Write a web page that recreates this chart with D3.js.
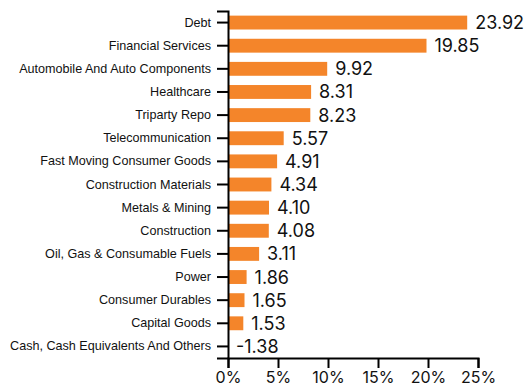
<!DOCTYPE html>
<html>
<head>
<meta charset="utf-8">
<script src="https://cdn.jsdelivr.net/npm/d3@7"></script>
<style>
  html, body { margin: 0; padding: 0; background: #fff; }
  svg { display: block; }
</style>
</head>
<body>
<div id="chart"></div>
<script>
// Sector allocation (% of net assets)
const sectors = [
  "Debt",
  "Financial Services",
  "Automobile And Auto Components",
  "Healthcare",
  "Triparty Repo",
  "Telecommunication",
  "Fast Moving Consumer Goods",
  "Construction Materials",
  "Metals & Mining",
  "Construction",
  "Oil, Gas & Consumable Fuels",
  "Power",
  "Consumer Durables",
  "Capital Goods",
  "Cash, Cash Equivalents And Others"
];
const weights = [23.92, 19.85, 9.92, 8.31, 8.23, 5.57, 4.91, 4.34, 4.10, 4.08, 3.11, 1.86, 1.65, 1.53, -1.38];
const xTicks = [0, 5, 10, 15, 20, 25];

const width = 527, height = 390;
const margin = { top: 11, right: 49, bottom: 32, left: 228 };

const data = sectors.map((s, i) => ({ sector: s, value: weights[i] }));

const svg = d3.select("#chart").append("svg")
  .attr("width", width)
  .attr("height", height);

const x = d3.scaleLinear()
  .domain([0, 25])
  .range([margin.left, width - margin.right]);

const y = d3.scaleBand()
  .domain(sectors)
  .range([margin.top, height - margin.bottom])
  .paddingInner(0.4)
  .paddingOuter(0.2);

// bars (negative values sit below the axis origin and are not drawn)
svg.append("g")
  .selectAll("rect")
  .data(data)
  .join("rect")
  .attr("x", x(0))
  .attr("y", d => y(d.sector))
  .attr("width", d => Math.max(0, x(Math.max(0, d.value)) - x(0)))
  .attr("height", y.bandwidth())
  .attr("fill", "#f4852a");

// value labels
svg.append("g")
  .selectAll("text")
  .data(data)
  .join("text")
  .attr("x", d => x(Math.max(0, d.value)) + 8)
  .attr("y", d => y(d.sector) + y.bandwidth() / 2)
  .attr("dy", "0.36em")
  .attr("font-family", "Inter, 'Noto Sans', sans-serif")
  .attr("font-size", 18)
  .attr("font-weight", 400)
  .attr("fill", "#111")
  .text(d => d.value.toFixed(2));

// y axis
const yAxis = svg.append("g")
  .attr("transform", `translate(${x(0)},0)`)
  .call(d3.axisLeft(y).tickSize(11).tickPadding(6));
yAxis.selectAll("text")
  .attr("font-family", "'Liberation Sans', Arial, sans-serif")
  .attr("font-size", 12.6)
  .attr("fill", "#111");
yAxis.selectAll("path, line").attr("stroke", "#000").attr("stroke-width", 2);

// x axis
const xAxis = svg.append("g")
  .attr("transform", `translate(0,${height - margin.bottom})`)
  .call(d3.axisBottom(x).tickValues(xTicks).tickFormat(d => d + "%").tickSize(10).tickPadding(4));
xAxis.selectAll("text")
  .attr("font-family", "Inter, 'Noto Sans', sans-serif")
  .attr("font-size", 16)
  .attr("fill", "#111");
xAxis.selectAll("path, line").attr("stroke", "#000").attr("stroke-width", 2);
</script>
</body>
</html>
